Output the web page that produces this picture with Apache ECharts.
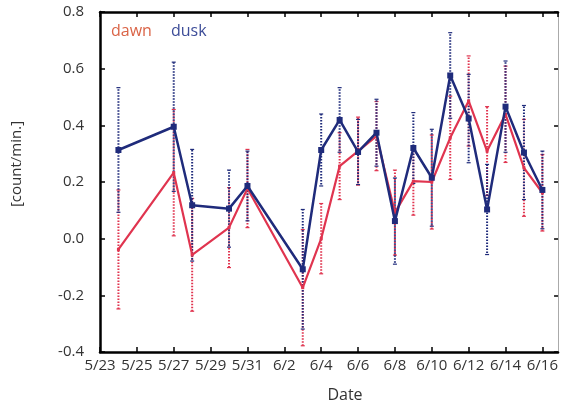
<!DOCTYPE html>
<html>
<head>
<meta charset="utf-8">
<script src="https://cdn.jsdelivr.net/npm/echarts@6/dist/echarts.min.js"></script>
<style>
  html, body { margin: 0; padding: 0; background: #fff; }
  #chart { width: 561px; height: 410px; }
</style>
</head>
<body>
<div id="chart"></div>
<script>
// Observation dates (month/day)
const dates = ['5/24', '5/27', '5/28', '5/30', '5/31', '6/3', '6/4', '6/5', '6/6', '6/7',
               '6/8', '6/9', '6/10', '6/11', '6/12', '6/13', '6/14', '6/15', '6/16'];

// Mean counts per minute
const dawnMean = [-0.038, 0.233, -0.057, 0.039, 0.177, -0.173, 0.000, 0.256, 0.309, 0.362,
                  0.092, 0.203, 0.200, 0.356, 0.486, 0.309, 0.439, 0.250, 0.162];
const duskMean = [0.313, 0.395, 0.118, 0.106, 0.186, -0.108, 0.313, 0.419, 0.306, 0.374,
                  0.062, 0.320, 0.215, 0.576, 0.424, 0.103, 0.466, 0.304, 0.172];

// Standard deviations (error bar half-lengths)
const dawnErr = [0.210, 0.223, 0.199, 0.141, 0.138, 0.205, 0.124, 0.118, 0.120, 0.122,
                 0.150, 0.120, 0.166, 0.147, 0.159, 0.157, 0.170, 0.171, 0.135];
const duskErr = [0.220, 0.228, 0.197, 0.136, 0.123, 0.211, 0.127, 0.114, 0.115, 0.118,
                 0.152, 0.125, 0.171, 0.151, 0.156, 0.159, 0.161, 0.166, 0.137];

// Axis settings
const yTicks = [-0.4, -0.2, 0.0, 0.2, 0.4, 0.6, 0.8];
const dayStart = { month: 5, day: 23 };
const YEAR = 2013;

const DAY_MS = 86400000;
const baseTime = Date.UTC(YEAR, dayStart.month - 1, dayStart.day);
function dayOffset(s) {
  const [m, d] = s.split('/').map(Number);
  return (Date.UTC(YEAR, m - 1, d) - baseTime) / DAY_MS;
}
function dayLabel(v) {
  if (Math.abs(v - Math.round(v)) > 1e-6) return '';
  const t = new Date(baseTime + Math.round(v) * DAY_MS);
  return (t.getUTCMonth() + 1) + '/' + t.getUTCDate();
}

const xs = dates.map(dayOffset);
const dawnLine = xs.map((x, i) => [x, dawnMean[i]]);
const duskLine = xs.map((x, i) => [x, duskMean[i]]);
const dawnBars = xs.map((x, i) => [x, dawnMean[i] - dawnErr[i], dawnMean[i] + dawnErr[i]]);
const duskBars = xs.map((x, i) => [x, duskMean[i] - duskErr[i], duskMean[i] + duskErr[i]]);

const DAWN = '#e0344f';
const DUSK = '#1f2b7b';
const FONT = '"Open Sans", "Noto Sans", sans-serif';

function errorBar(color, dashOffset) {
  return function (params, api) {
    const x = api.value(0);
    const lo = api.coord([x, api.value(1)]);
    const hi = api.coord([x, api.value(2)]);
    const area = params.coordSys;
    const top = Math.max(hi[1], area.y);
    const bot = Math.min(lo[1], area.y + area.height);
    const style = { stroke: color, lineWidth: 2, lineDash: [1.5, 1.5], lineDashOffset: dashOffset };
    return {
      type: 'group',
      children: [
        { type: 'line', shape: { x1: lo[0], y1: bot, x2: hi[0], y2: top }, style: style },
        { type: 'line', shape: { x1: hi[0] - 2, y1: top, x2: hi[0] + 2, y2: top },
          style: { stroke: color, lineWidth: 1.2 } },
        { type: 'line', shape: { x1: lo[0] - 2, y1: bot, x2: lo[0] + 2, y2: bot },
          style: { stroke: color, lineWidth: 1.2 } }
      ]
    };
  };
}

const axisLine = { show: true, onZero: false, lineStyle: { color: '#000', width: 2.5 } };
const tick = { show: true, inside: true, length: 5, lineStyle: { color: '#000', width: 1.5 } };
const chart = echarts.init(document.getElementById('chart'), null, { renderer: 'canvas' });
chart.setOption({
  animation: false,
  backgroundColor: '#fff',
  grid: { left: 100, right: 2, top: 12, bottom: 58, containLabel: false },
  xAxis: [
    {
      type: 'value', position: 'bottom', min: 0, max: 24.85, interval: 2,
      axisLine: axisLine, axisTick: tick,
      axisLabel: { formatter: dayLabel, color: '#333', fontSize: 15, fontFamily: FONT, margin: 6,
                   showMaxLabel: false },
      splitLine: { show: false }
    },
    {
      type: 'value', position: 'top', min: 0, max: 24.85, interval: 2,
      axisLine: axisLine, axisTick: tick,
      axisLabel: { show: false },
      splitLine: { show: false }
    }
  ],
  yAxis: [
    {
      type: 'value', position: 'left', min: yTicks[0], max: yTicks[yTicks.length - 1], interval: 0.2,
      axisLine: axisLine, axisTick: tick,
      axisLabel: { formatter: v => v.toFixed(1), color: '#333', fontSize: 15, fontFamily: FONT, margin: 16 },
      splitLine: { show: false }
    },
    {
      type: 'value', position: 'right', min: yTicks[0], max: yTicks[yTicks.length - 1], interval: 0.2,
      axisLine: { show: true, onZero: false, lineStyle: { color: '#aaa', width: 1 } },
      axisTick: { show: true, inside: true, length: 4, lineStyle: { color: '#000', width: 1.5 } },
      axisLabel: { show: false },
      splitLine: { show: false }
    }
  ],
  graphic: [
    { type: 'text', left: 111, top: 23,
      style: { text: 'dawn', fill: '#da6447', font: '16px ' + FONT } },
    { type: 'text', left: 171, top: 23,
      style: { text: 'dusk', fill: '#3c4c98', font: '16px ' + FONT } },
    { type: 'text', x: 17, y: 164, rotation: Math.PI / 2,
      style: { text: '[count/min.]', fill: '#333', font: '15px ' + FONT, align: 'center', verticalAlign: 'middle' } },
    { type: 'text', x: 345, y: 395,
      style: { text: 'Date', fill: '#333', font: '16px ' + FONT, align: 'center', verticalAlign: 'middle' } }
  ],
  series: [
    { name: 'dawn err', type: 'custom', data: dawnBars, renderItem: errorBar(DAWN, 0),
      encode: { x: 0, y: [1, 2] }, z: 1, clip: false },
    { name: 'dusk err', type: 'custom', data: duskBars, renderItem: errorBar(DUSK, 1.5),
      encode: { x: 0, y: [1, 2] }, z: 2, clip: false },
    { name: 'dawn', type: 'line', data: dawnLine, showSymbol: true, symbol: 'rect', symbolSize: 3,
      itemStyle: { color: DAWN }, lineStyle: { color: DAWN, width: 2.2 }, z: 3 },
    { name: 'dusk', type: 'line', data: duskLine, symbol: 'rect', symbolSize: 6,
      itemStyle: { color: DUSK }, lineStyle: { color: DUSK, width: 2.5 }, z: 4 }
  ]
});
</script>
</body>
</html>
